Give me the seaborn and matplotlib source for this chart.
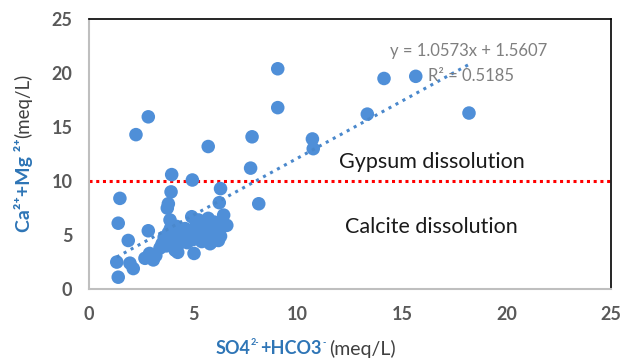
import matplotlib
matplotlib.use("Agg")
import matplotlib.pyplot as plt
import seaborn as sns
import pandas as pd

# ---- data ----
so4_hco3 = [
    9.04, 9.04, 2.84, 2.25, 5.71, 7.81, 7.74, 10.70, 10.74, 3.96, 4.95,
    14.13, 15.65, 13.33, 18.20,
    6.30, 6.24, 8.13, 6.45, 6.60,
    1.48, 1.40, 1.88, 1.33, 1.40, 1.96, 2.12, 2.68, 3.08, 3.40, 4.12, 4.25, 5.03,
    3.93, 3.80, 3.75, 3.88, 4.92, 5.24, 5.71, 2.84,
    3.60, 3.80, 3.90, 4.00, 4.10, 4.20, 4.30, 4.40, 4.50, 4.60, 4.70, 4.80,
    4.90, 5.00, 5.10, 5.20, 5.30, 5.40, 5.50, 5.60, 5.70, 5.80, 5.90, 6.00,
    6.10, 6.20, 6.30, 6.00, 5.50, 3.50, 3.70, 4.20, 5.90, 6.30, 3.20, 2.90,
]
ca_mg = [
    20.4, 16.8, 15.95, 14.3, 13.2, 14.1, 11.2, 13.9, 13.0, 10.6, 10.1,
    19.5, 19.7, 16.2, 16.3,
    9.3, 8.0, 7.9, 6.85, 5.9,
    8.4, 6.1, 4.5, 2.5, 1.1, 2.4, 1.9, 2.85, 2.7, 3.8, 3.6, 3.4, 3.3,
    9.0, 7.9, 7.5, 6.4, 6.7, 6.4, 6.55, 5.4,
    4.8, 5.2, 5.6, 5.0, 4.5, 5.8, 4.2, 5.3, 4.8, 5.6, 4.3, 5.0,
    5.4, 4.6, 5.8, 4.9, 5.3, 4.4, 5.6, 4.7, 5.2, 4.2, 5.7, 4.8,
    5.4, 4.5, 5.9, 6.2, 6.0, 4.2, 4.0, 3.9, 4.4, 4.9, 3.1, 3.3,
]
slope, intercept = 1.0573, 1.5607
r_squared = 0.5185
threshold = 10
region_labels = ["Gypsum dissolution", "Calcite dissolution"]
x_ticks = [0, 5, 10, 15, 20, 25]
y_ticks = [0, 5, 10, 15, 20, 25]

df = pd.DataFrame({"x": so4_hco3, "y": ca_mg})
xs = [min(so4_hco3), max(so4_hco3)]
trend = pd.DataFrame({"x": xs, "y": [slope * v + intercept for v in xs]})

sns.set_theme(style="white")
plt.rcParams["font.family"] = ["Lato", "DejaVu Sans"]

fig = plt.figure(figsize=(6.33, 3.6), dpi=100)
ax = fig.add_axes([0.1406, 0.197, 0.8246, 0.750])

pt_color = "#4f8fd8"
sns.scatterplot(data=df, x="x", y="y", ax=ax, s=95, color=pt_color,
                edgecolor="none", linewidth=0, zorder=3)
sns.lineplot(data=trend, x="x", y="y", ax=ax, color="#4a88cc",
             linestyle=(0, (1, 1.6)), linewidth=2.2, zorder=4)
ax.axhline(threshold, color="#ff0000", linestyle=(0, (1, 1.2)),
           linewidth=2.2, zorder=2)

ax.set_xlim(0, 25)
ax.set_ylim(0, 25)
ax.set_xticks(x_ticks)
ax.set_yticks(y_ticks)
ax.set_xticklabels([str(t) for t in x_ticks])
ax.set_yticklabels([str(t) for t in y_ticks])
ax.tick_params(axis="both", labelsize=13, colors="#595959", length=4,
               width=1, direction="out", pad=8)
for lbl in ax.get_xticklabels() + ax.get_yticklabels():
    lbl.set_fontweight("bold")
    lbl.set_color("#595959")
ax.tick_params(axis="both", color="#bfbfbf")

for side in ["top", "right"]:
    ax.spines[side].set_color("#000000")
    ax.spines[side].set_linewidth(1.2)
for side in ["left", "bottom"]:
    ax.spines[side].set_color("#bfbfbf")
    ax.spines[side].set_linewidth(1.5)

ax.set_xlabel("")
ax.set_ylabel("")

ax.text(16.4, 11.75, region_labels[0], fontsize=15.5, color="#1a1a1a",
        ha="center", va="center", zorder=5)
ax.text(16.4, 5.75, region_labels[1], fontsize=15.5, color="#1a1a1a",
        ha="center", va="center", zorder=5)

ax.text(18.2, 21.3, f"y = {slope}x + {intercept}", fontsize=12,
        color="#7f7f7f", ha="center", va="bottom", zorder=5)
ax.text(18.3, 19.0, f"R² = {r_squared}", fontsize=12,
        color="#7f7f7f", ha="center", va="bottom", zorder=5)

blue = "#2e75b6"
# x label: blue bold part with small superscripts + gray part
xl1 = fig.text(0.34, 0.018, "SO4", fontsize=13, color=blue,
               fontweight="bold", ha="left", va="baseline")
xl2 = ax.annotate("2-", xy=(1, 0.55), xycoords=xl1, fontsize=6.5, color=blue,
                  fontweight="bold", ha="left", va="bottom",
                  xytext=(0.5, 0), textcoords="offset points")
xl3 = ax.annotate("+HCO3", xy=(1, 0), xycoords=(xl2, xl1), fontsize=13,
                  color=blue, fontweight="bold", ha="left", va="bottom",
                  xytext=(0.3, 0), textcoords="offset points")
xl4 = ax.annotate("-", xy=(1, 0.55), xycoords=xl3, fontsize=6.5, color=blue,
                  fontweight="bold", ha="left", va="bottom",
                  xytext=(0.5, 0), textcoords="offset points")
ax.annotate("(meq/L)", xy=(1, 0), xycoords=(xl4, xl3), fontsize=14,
            color="#404040", ha="left", va="bottom",
            xytext=(3, -1), textcoords="offset points")

# y label: rotated
yl1 = fig.text(0.022, 0.355, "Ca²⁺+Mg ²⁺", fontsize=14, color=blue,
               fontweight="bold", rotation=90, ha="left", va="bottom")
ax.annotate("(meq/L)", xy=(0, 1), xycoords=yl1, fontsize=13.5,
            color="#404040", rotation=90, ha="left", va="bottom")

fig.savefig("out.png", dpi=100, facecolor="white")
